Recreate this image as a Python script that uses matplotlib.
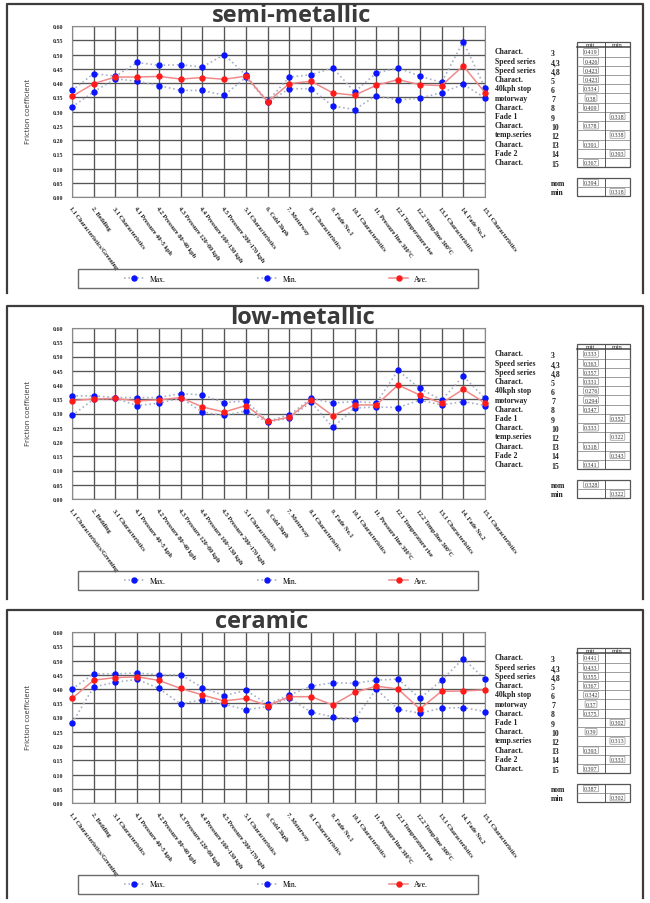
import numpy as np
import matplotlib
matplotlib.use("Agg")
import matplotlib.pyplot as plt
from matplotlib.lines import Line2D
from matplotlib.patches import Rectangle

W, H = 650, 904

# test steps on the x axis
steps = ["1.1 Characteristics/Greening", "2. Bedding", "3.1 Characteristics",
         "4.1 Pressure 40~5 kph", "4.2 Pressure 80~40 kph", "4.3 Pressure 120~80 kph",
         "4.4 Pressure 160~130 kph", "4.5 Pressure 200~170 kph", "5.1 Characteristics",
         "6. Cold 3kph", "7. Motorway", "8.1 Characteristics", "9. Fade No.1",
         "10.1 Characteristics", "11. Pressure line 300°C", "12.1 Temperature rise",
         "12.2 Temp.line 300°C", "13.1 Characteristics", "14. Fade No.2",
         "15.1 Characteristics"]
yticks = np.arange(0, 0.601, 0.05)

# semi-metallic
semi_max = [0.374, 0.433, 0.424, 0.472, 0.462, 0.464, 0.456, 0.500, 0.427, 0.336,
            0.421, 0.429, 0.453, 0.369, 0.435, 0.453, 0.424, 0.402, 0.545, 0.383]
semi_min = [0.316, 0.369, 0.415, 0.406, 0.391, 0.374, 0.374, 0.357, 0.420, 0.332,
            0.380, 0.380, 0.319, 0.307, 0.356, 0.340, 0.347, 0.366, 0.395, 0.348]
semi_ave = [0.353, 0.398, 0.421, 0.421, 0.423, 0.414, 0.419, 0.413, 0.424, 0.334,
            0.398, 0.406, 0.365, 0.357, 0.392, 0.412, 0.394, 0.391, 0.460, 0.366]

# low-metallic
low_max = [0.362, 0.362, 0.356, 0.356, 0.356, 0.370, 0.365, 0.338, 0.344, 0.273,
           0.295, 0.353, 0.337, 0.342, 0.337, 0.451, 0.388, 0.347, 0.431, 0.353]
low_min = [0.293, 0.350, 0.353, 0.328, 0.336, 0.354, 0.305, 0.293, 0.309, 0.270,
           0.284, 0.340, 0.251, 0.319, 0.323, 0.321, 0.347, 0.330, 0.342, 0.328]
low_ave = [0.345, 0.351, 0.353, 0.344, 0.348, 0.356, 0.323, 0.305, 0.328, 0.272,
           0.287, 0.348, 0.292, 0.330, 0.330, 0.400, 0.365, 0.336, 0.385, 0.337]

# ceramic
cer_max = [0.400, 0.453, 0.453, 0.456, 0.450, 0.450, 0.405, 0.377, 0.395, 0.347,
           0.379, 0.410, 0.422, 0.420, 0.431, 0.435, 0.367, 0.430, 0.507, 0.434]
cer_min = [0.280, 0.407, 0.424, 0.434, 0.402, 0.347, 0.363, 0.347, 0.327, 0.338,
           0.368, 0.319, 0.302, 0.294, 0.399, 0.329, 0.315, 0.333, 0.335, 0.321]
cer_ave = [0.367, 0.431, 0.440, 0.443, 0.430, 0.402, 0.379, 0.358, 0.367, 0.342,
           0.373, 0.373, 0.344, 0.388, 0.410, 0.400, 0.330, 0.392, 0.393, 0.397]

# side table
tab_names = ["Charact.", "Speed series", "Speed series", "Charact.", "40kph stop",
             "motorway", "Charact.", "Fade 1", "Charact.", "temp.series", "Charact.",
             "Fade 2", "Charact."]
tab_nums = ["3", "4,3", "4,8", "5", "6", "7", "8", "9", "10", "12", "13", "14", "15"]
semi_mit = ["0.419", "0.426", "0.423", "0.423", "0.334", "0.38", "0.409", "", "0.378", "", "0.391", "", "0.367"]
semi_mn = ["", "", "", "", "", "", "", "0.318", "", "0.338", "", "0.393", ""]
low_mit = ["0.333", "0.363", "0.357", "0.331", "0.276", "0.294", "0.347", "", "0.333", "", "0.318", "", "0.341"]
low_mn = ["", "", "", "", "", "", "", "0.352", "", "0.322", "", "0.343", ""]
cer_mit = ["0.441", "0.433", "0.355", "0.367", "0.342", "0.37", "0.375", "", "0.39", "", "0.393", "", "0.397"]
cer_mn = ["", "", "", "", "", "", "", "0.302", "", "0.313", "", "0.333", ""]
semi_nom, semi_low = "0.394", "0.318"
low_nom, low_low = "0.328", "0.322"
cer_nom, cer_low = "0.387", "0.302"

SERIF = ["Liberation Serif", "DejaVu Serif"]


def fx(x):
    return x / W


def fy(y):
    return 1 - y / H


def fig_line(fig, xs, ys, **kw):
    fig.add_artist(Line2D([fx(v) for v in xs], [fy(v) for v in ys],
                          transform=fig.transFigure, **kw))


def draw_panel(fig, off, title, title_x, vmax, vmin, vave, mit, mn, nom, nmin, bottom):
    # frame around the panel (open at the bottom)
    fig_line(fig, [7, 7, 643, 643], [bottom, 5 + off, 5 + off, bottom], color="#3c3c3c", lw=1.6)

    ax = fig.add_axes([fx(72), fy(198 + off), 413 / W, 171 / H])
    x = np.arange(len(steps))
    ax.plot(x, vmax, ls=":", color="#a9b1c6", lw=1.2, marker="o", ms=3.6,
            mfc="#0a14ff", mec="#0a14ff", clip_on=False, zorder=3)
    ax.plot(x, vmin, ls=":", color="#a9b1c6", lw=1.2, marker="o", ms=3.6,
            mfc="#0a14ff", mec="#0a14ff", clip_on=False, zorder=3)
    ax.plot(x, vave, ls="-", color="#f08a8a", lw=1.1, marker="o", ms=3.6,
            mfc="#ff1a1a", mec="#ff1a1a", clip_on=False, zorder=4)
    ax.set_xlim(0, len(steps) - 1)
    ax.set_ylim(0, 0.6)
    ax.set_xticks(x)
    ax.set_xticklabels(steps, rotation=-53, ha="left", va="top", rotation_mode="anchor",
                       fontsize=4.5, family=SERIF, weight="bold", color="#222")
    ax.set_yticks(yticks)
    ax.set_yticklabels([f"{v:.2f}" for v in yticks], fontsize=4.3, family=SERIF,
                       weight="bold", color="#222")
    ax.tick_params(length=0, pad=6)
    ax.grid(True, color="#555555", lw=0.95)
    ax.set_axisbelow(True)
    for s in ax.spines.values():
        s.set_color("#8a8a8a")
        s.set_linewidth(0.8)

    fig.text(fx(title_x), fy(16 + off), title, ha="center", va="center", fontsize=17,
             family="Open Sans", weight="bold", color="#3a3a3a")
    fig.text(fx(28), fy(112 + off), "Friction coefficient", rotation=90, ha="center",
             va="center", fontsize=5.5, family="Open Sans", color="#333")

    # legend box
    fig.add_artist(Rectangle((fx(78), fy(289 + off)), 400 / W, 19 / H, fill=False,
                             ec="#6a6a6a", lw=1.0, transform=fig.transFigure))
    handles = [
        Line2D([], [], ls=":", color="#a9b1c6", lw=1.2, marker="o", ms=3.6,
               mfc="#0a14ff", mec="#0a14ff"),
        Line2D([], [], ls=":", color="#a9b1c6", lw=1.2, marker="o", ms=3.6,
               mfc="#0a14ff", mec="#0a14ff"),
        Line2D([], [], ls="-", color="#f08a8a", lw=1.1, marker="o", ms=3.6,
               mfc="#ff1a1a", mec="#ff1a1a"),
    ]
    ax.legend(handles, ["Max.", "Min.", "Ave."], loc="center",
              bbox_to_anchor=(fx(276), fy(279.5 + off)), bbox_transform=fig.transFigure,
              ncol=3, frameon=False, handlelength=2.6, handletextpad=0.7,
              columnspacing=12.0, prop={"family": SERIF, "size": 5.5})

    # side table
    row_h = 9.23
    top, head = 42.7 + off, 48.3 + off
    for i, (nm, nu) in enumerate(zip(tab_names, tab_nums)):
        yc = head + row_h * (i + 0.5)
        fig.text(fx(495), fy(yc - 0.5), nm, ha="left", va="center", fontsize=5.6,
                 family=SERIF, weight="bold", color="#222")
        fig.text(fx(551), fy(yc + 1), nu, ha="left", va="center", fontsize=5.6,
                 family=SERIF, weight="bold", color="#222")
        for cx, val in ((591, mit[i]), (617.5, mn[i])):
            if val:
                fig.text(fx(cx), fy(yc), val, ha="center", va="center", fontsize=4.3,
                         family=SERIF, color="#333",
                         bbox=dict(boxstyle="round,pad=0.12", fc="white", ec="#777", lw=0.4))
        if i > 0:
            fig_line(fig, [577, 630], [head + row_h * i] * 2, color="#777", lw=0.5)
    bot = head + row_h * len(tab_names)
    fig.add_artist(Rectangle((fx(577), fy(bot)), 53 / W, (bot - top) / H, fill=False,
                             ec="#555", lw=0.9, transform=fig.transFigure))
    fig_line(fig, [605, 605], [top, bot], color="#555", lw=0.7)
    fig_line(fig, [577, 630], [head, head], color="#444", lw=1.1)
    fig.text(fx(591), fy(top + 2.8), "mit", ha="center", va="center", fontsize=5,
             family=SERIF, color="#333")
    fig.text(fx(617.5), fy(top + 2.8), "min", ha="center", va="center", fontsize=5,
             family=SERIF, color="#333")

    # nom / min box
    nt, nb = 179 + off, 197.3 + off
    fig.add_artist(Rectangle((fx(577), fy(nb)), 53 / W, (nb - nt) / H, fill=False,
                             ec="#555", lw=0.9, transform=fig.transFigure))
    fig_line(fig, [605, 605], [nt, nb], color="#555", lw=0.7)
    fig_line(fig, [577, 630], [(nt + nb) / 2] * 2, color="#777", lw=0.5)
    fig.text(fx(551), fy(nt + 4.6), "nom", ha="left", va="center", fontsize=5.6,
             family=SERIF, weight="bold", color="#222")
    fig.text(fx(551), fy(nb - 4.6), "min", ha="left", va="center", fontsize=5.6,
             family=SERIF, weight="bold", color="#222")
    for cx, cy, val in ((591, nt + 4.6, nom), (617.5, nb - 4.6, nmin)):
        fig.text(fx(cx), fy(cy), val, ha="center", va="center", fontsize=4.3,
                 family=SERIF, color="#333",
                 bbox=dict(boxstyle="round,pad=0.12", fc="white", ec="#777", lw=0.4))


fig = plt.figure(figsize=(W / 100, H / 100), dpi=100)
fig.patch.set_facecolor("white")

draw_panel(fig, 0, "semi-metallic", 292, semi_max, semi_min, semi_ave,
           semi_mit, semi_mn, semi_nom, semi_low, 294)
draw_panel(fig, 302, "low-metallic", 302, low_max, low_min, low_ave,
           low_mit, low_mn, low_nom, low_low, 600)
draw_panel(fig, 606, "ceramic", 262, cer_max, cer_min, cer_ave,
           cer_mit, cer_mn, cer_nom, cer_low, 899)

fig.savefig("out.png", dpi=100)
